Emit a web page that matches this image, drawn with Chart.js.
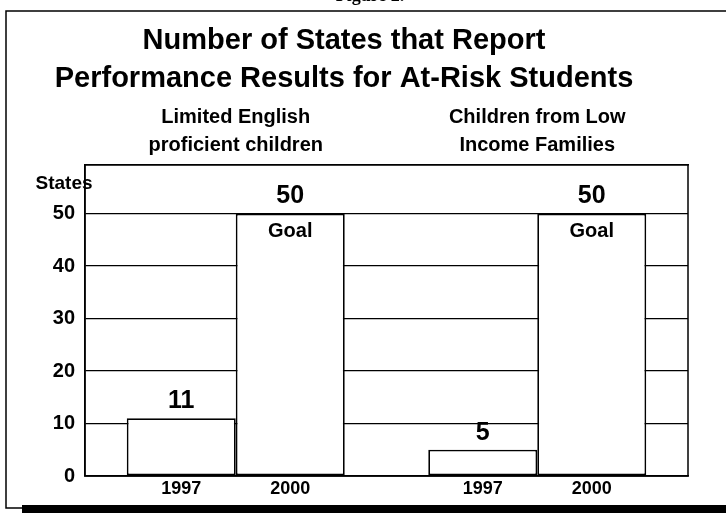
<!DOCTYPE html>
<html>
<head>
<meta charset="utf-8">
<script src="https://cdn.jsdelivr.net/npm/chart.js@4"></script>
<style>
  body { margin: 0; background: #fff; }
</style>
</head>
<body>
<canvas id="grafico" width="726" height="513"></canvas>
<script>
// datos del grafico
const grupos = [['Limited English', 'proficient children'], ['Children from Low', 'Income Families']];
const anios = ['1997', '2000'];
const valores1997 = [11, 5];
const valores2000 = [50, 50];
const notas = ['', 'Goal']; // texto dentro de la barra, por serie
const tituloLineas = ['Number of States that Report', 'Performance Results for At-Risk Students'];

const fuente = "'Liberation Sans', Arial, sans-serif";

// plugin para marco, textos y etiquetas
const extras = {
  id: 'extras',
  beforeDraw(chart) {
    const ctx = chart.ctx;
    ctx.save();
    ctx.fillStyle = '#fff';
    ctx.fillRect(0, 0, chart.width, chart.height);
    ctx.restore();
  },
  beforeDatasetsDraw(chart) {
    const ctx = chart.ctx, a = chart.chartArea;
    ctx.save();
    ctx.strokeStyle = '#000';
    ctx.lineWidth = 1.5;
    ctx.strokeRect(a.left, a.top, a.right - a.left, a.bottom - a.top);
    ctx.restore();
  },
  afterDatasetsDraw(chart) {
    const ctx = chart.ctx;
    ctx.save();
    ctx.fillStyle = '#000';
    ctx.textAlign = 'center';
    ctx.textBaseline = 'middle';
    chart.data.datasets.forEach((ds, i) => {
      chart.getDatasetMeta(i).data.forEach((bar, j) => {
        ctx.font = 'bold 25px ' + fuente;
        ctx.fillText(String(ds.data[j]), bar.x, bar.y - 17);
        if (notas[i]) {
          ctx.font = 'bold 20px ' + fuente;
          ctx.fillText(notas[i], bar.x, bar.y + 18);
        }
        ctx.font = 'bold 18px ' + fuente;
        ctx.fillText(ds.label, bar.x, 489);
      });
    });
    // etiqueta del eje
    ctx.font = 'bold 19px ' + fuente;
    ctx.fillText('States', 64, 184);
    // marco exterior
    ctx.strokeStyle = '#000';
    ctx.lineWidth = 1.5;
    ctx.beginPath();
    ctx.moveTo(726, 11);
    ctx.lineTo(6, 11);
    ctx.lineTo(6, 508);
    ctx.lineTo(22, 508);
    ctx.stroke();
    ctx.fillRect(22, 505, 704, 8);
    // texto cortado arriba
    ctx.font = 'bold 18px "Liberation Serif", serif';
    ctx.textBaseline = 'alphabetic';
    ctx.fillText('Figure 2.', 370, 1);
    ctx.restore();
  }
};

const datos = {
  labels: grupos,
  datasets: [
    {
      label: anios[0],
      data: valores1997,
      backgroundColor: '#fff',
      borderColor: '#000',
      borderWidth: 1.8,
      borderSkipped: false
    },
    {
      label: anios[1],
      data: valores2000,
      backgroundColor: '#fff',
      borderColor: '#000',
      borderWidth: 1.8,
      borderSkipped: false
    }
  ]
};

new Chart(document.getElementById('grafico'), {
  type: 'bar',
  data: datos,
  plugins: [extras],
  options: {
    responsive: false,
    animation: false,
    categoryPercentage: 0.723,
    barPercentage: 1,
    layout: { padding: { left: 0, right: 38, top: 0, bottom: 37 } },
    plugins: {
      legend: { display: false },
      tooltip: { enabled: false },
      title: {
        display: true,
        text: tituloLineas,
        color: '#000',
        font: { family: fuente, size: 29, weight: 'bold', lineHeight: 1.31 },
        padding: { top: 22, bottom: 0 }
      }
    },
    scales: {
      x: {
        grid: { display: false, drawTicks: false },
        border: { display: true, color: '#000', width: 1.5 },
        ticks: { display: false },
        afterFit: s => { s.height = 0; }
      },
      x2: {
        type: 'category',
        position: 'top',
        labels: grupos,
        grid: { display: false, drawTicks: false },
        border: { display: true, color: '#000', width: 1.5 },
        ticks: {
          color: '#000',
          padding: 5,
          font: { family: fuente, size: 20, weight: 'bold', lineHeight: 1.4 }
        },
        afterFit: s => { s.height = 66.8; }
      },
      y: {
        min: 0,
        max: 59.3,
        grid: { color: '#000', lineWidth: 1.2, drawTicks: false },
        border: { display: true, color: '#000', width: 1.5 },
        ticks: {
          stepSize: 10,
          includeBounds: false,
          color: '#000',
          padding: 10,
          font: { family: fuente, size: 20, weight: 'bold' }
        },
        afterFit: s => { s.width = 85; }
      }
    }
  }
});
</script>
</body>
</html>
